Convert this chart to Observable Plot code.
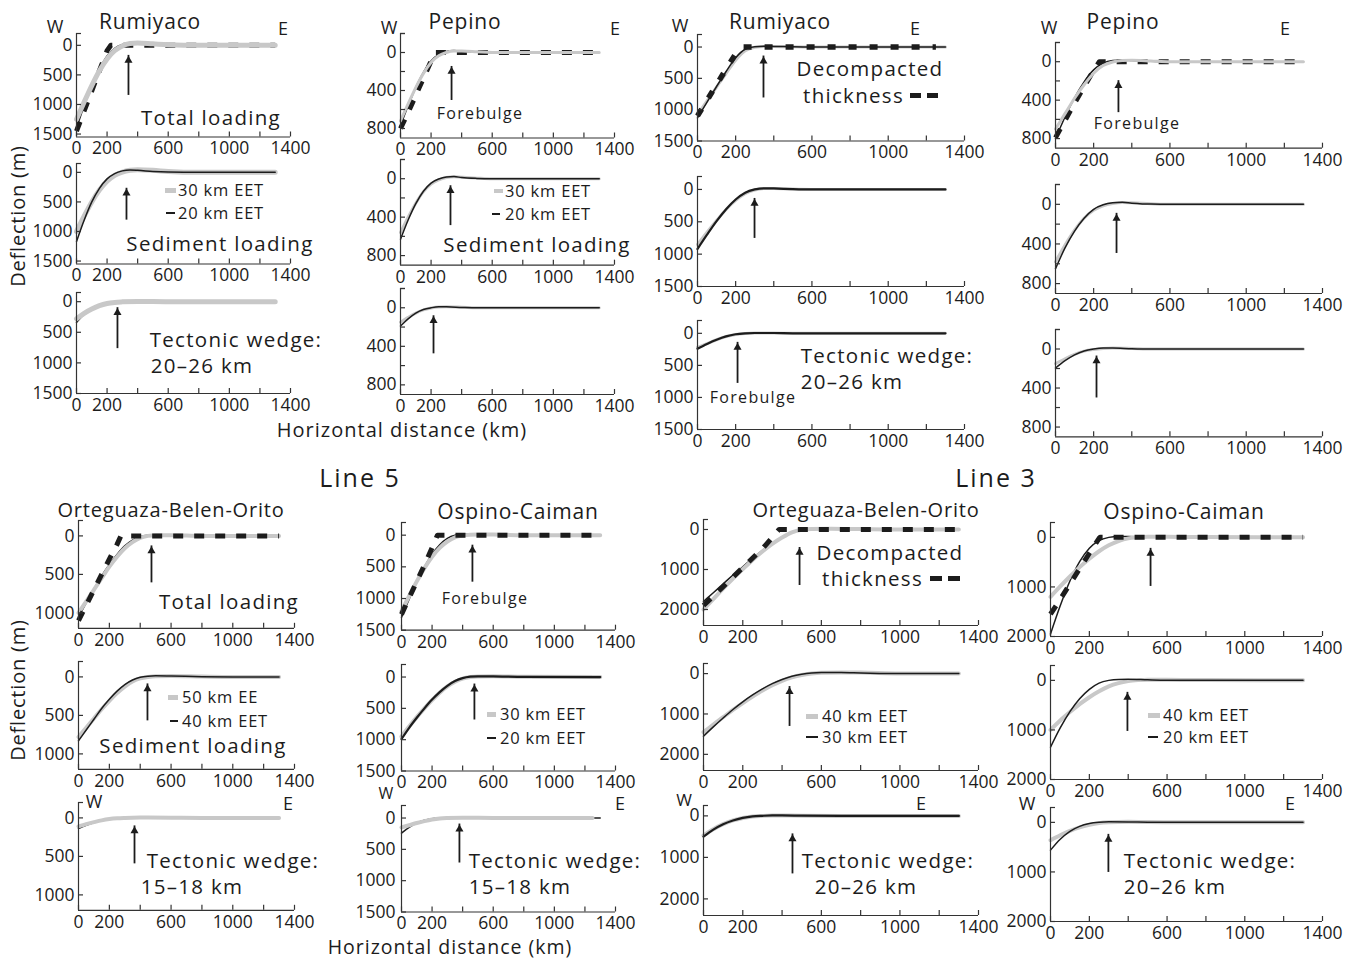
<!DOCTYPE html>
<html><head><meta charset="utf-8">
<script src="https://cdn.jsdelivr.net/npm/d3@7"></script>
<script src="https://cdn.jsdelivr.net/npm/@observablehq/plot@0.6"></script>
<style>
body{margin:0;background:#fff;}
#fig{position:relative;width:1346px;height:961px;overflow:hidden;font-family:"Open Sans",sans-serif;color:#1c1c1c;}
.t{position:absolute;transform:translate(-50%,-50%);white-space:nowrap;line-height:1;}
.l{position:absolute;transform:translate(0,-50%);white-space:nowrap;line-height:1;}
.sw{position:absolute;}
</style></head><body><div id="fig"></div>
<script>
// ---------- tick values ----------
const xTicks = [0,200,400,600,800,1000,1200,1400];
const xLabels = [0,200,600,1000,1400];
const yLab1500 = [0,500,1000,1500];
const yLab800 = [0,400,800];
const yTick800 = [-200,0,200,400,600,800];
const yLab1000 = [0,500,1000];
const yLab2000 = [0,1000,2000];

// ---------- Line 5 (top): Rumiyaco ----------
const p1_dash = [[0,1450],[50,1110],[100,770],[150,430],[200,90],[225,0],[1300,0]];
const p1_g30 = [[0,1250],[50,960],[100,680],[150,430],[200,230],[250,90],[300,10],[350,-30],[400,-40],[500,-25],[600,-10],[800,0],[1300,0]];
const p1_b20 = [[0,1400],[50,1020],[100,680],[150,400],[200,180],[250,50],[300,-15],[350,-40],[400,-35],[500,-15],[600,0],[1300,0]];
const p2_g30 = [[0,1000],[50,740],[100,500],[150,300],[200,150],[250,50],[300,-5],[350,-35],[400,-45],[500,-35],[600,-15],[800,0],[1300,0]];
const p2_b20 = [[0,1170],[50,810],[100,500],[150,270],[200,110],[250,20],[300,-25],[350,-40],[400,-35],[500,-15],[600,-5],[800,0],[1300,0]];
const p3_g30 = [[0,280],[50,190],[100,120],[150,65],[200,30],[250,12],[300,3],[400,-5],[600,0],[1300,0]];
const p3_b20 = [[0,340],[50,210],[100,120],[150,60],[200,25],[250,8],[300,0],[400,-5],[600,0],[1300,0]];
// Line 5 (top): Pepino
const p4_dash = [[0,800],[50,630],[100,450],[150,270],[200,90],[230,0],[1300,0]];
const p4_g30 = [[0,720],[50,540],[100,370],[150,220],[200,105],[250,35],[300,0],[350,-15],[400,-15],[500,-8],[600,0],[1300,0]];
const p4_b20 = [[0,770],[50,560],[100,370],[150,210],[200,90],[250,20],[300,-10],[350,-20],[400,-15],[500,-5],[600,0],[1300,0]];
const p5_g30 = [[0,560],[50,400],[100,255],[150,135],[200,55],[250,12],[300,-12],[350,-20],[400,-15],[500,-6],[600,0],[1300,0]];
const p5_b20 = [[0,630],[50,430],[100,260],[150,130],[200,45],[250,3],[300,-18],[350,-22],[400,-12],[500,-3],[600,0],[1300,0]];
const p6_g30 = [[0,150],[50,100],[100,55],[150,22],[200,3],[250,-8],[300,-10],[400,-6],[500,0],[1300,0]];
const p6_b20 = [[0,190],[50,115],[100,55],[150,18],[200,0],[250,-10],[300,-10],[400,-4],[500,0],[1300,0]];
// ---------- Line 3 (top): Rumiyaco ----------
const p7_dash = [[0,1100],[50,850],[100,600],[150,350],[200,110],[230,0],[1250,0]];
const p7_g = [[0,1080],[50,860],[100,640],[150,420],[200,210],[250,60],[300,5],[350,-10],[400,-10],[500,-3],[600,0],[1300,0]];
const p7_b = [[0,1130],[50,880],[100,630],[150,390],[200,170],[250,35],[300,-5],[350,-12],[400,-10],[500,-3],[600,0],[1300,0]];
const p8_g = [[0,850],[50,660],[100,480],[150,310],[200,170],[250,65],[300,8],[350,-15],[400,-15],[500,-5],[600,0],[1300,0]];
const p8_b = [[0,920],[50,700],[100,490],[150,305],[200,155],[250,50],[300,0],[350,-18],[400,-15],[500,-5],[600,0],[1300,0]];
const p9_g = [[0,220],[50,160],[100,100],[150,50],[200,18],[250,2],[300,-5],[400,-5],[500,0],[1300,0]];
const p9_b = [[0,240],[50,165],[100,100],[150,48],[200,15],[250,0],[300,-5],[400,-5],[500,0],[1300,0]];
// Line 3 (top): Pepino
const p10_dash = [[0,790],[50,610],[100,430],[150,260],[200,90],[230,0],[1300,0]];
const p10_g = [[0,700],[50,540],[100,380],[150,240],[200,120],[250,40],[300,3],[350,-12],[400,-15],[500,-8],[600,0],[1300,0]];
const p10_b = [[0,800],[50,575],[100,375],[150,210],[200,85],[250,15],[300,-12],[350,-18],[400,-12],[500,-4],[600,0],[1300,0]];
const p11_g = [[0,580],[50,410],[100,260],[150,140],[200,60],[250,15],[300,-8],[350,-18],[400,-15],[500,-6],[600,0],[1300,0]];
const p11_b = [[0,650],[50,440],[100,270],[150,140],[200,50],[250,5],[300,-15],[350,-20],[400,-12],[500,-2],[600,0],[1300,0]];
const p12_g = [[0,150],[50,100],[100,55],[150,22],[200,5],[250,-5],[300,-10],[400,-6],[500,0],[1300,0]];
const p12_b = [[0,195],[50,120],[100,60],[150,20],[200,0],[250,-10],[300,-10],[400,-3],[500,0],[1300,0]];
// ---------- Line 5 (bottom): Orteguaza-Belen-Orito ----------
const p13_dash = [[0,1100],[50,900],[100,700],[150,500],[200,300],[250,110],[275,0],[1300,0]];
const p13_g = [[0,1000],[50,850],[100,700],[150,550],[200,400],[250,270],[300,160],[350,80],[400,25],[450,0],[500,-10],[600,-10],[800,0],[1300,0]];
const p13_b = [[0,1050],[50,870],[100,690],[150,520],[200,370],[250,240],[300,130],[350,55],[400,10],[450,-8],[500,-12],[600,-8],[800,0],[1300,0]];
const p14_g50 = [[0,780],[50,660],[100,540],[150,420],[200,310],[250,210],[300,125],[350,60],[400,20],[450,0],[500,-10],[600,-12],[800,-5],[1000,0],[1300,0]];
const p14_b40 = [[0,830],[50,690],[100,550],[150,410],[200,290],[250,185],[300,100],[350,40],[400,5],[450,-10],[500,-15],[600,-12],[800,-3],[1000,0],[1300,0]];
const p15_g = [[0,110],[50,80],[100,55],[150,32],[200,15],[250,5],[300,0],[400,-4],[600,-2],[800,0],[1300,0]];
const p15_b = [[0,140],[50,95],[100,60],[150,32],[200,13],[250,3],[300,-2],[400,-4],[600,0],[1300,0]];
// Line 5 (bottom): Ospino-Caiman
const p16_dash = [[0,1250],[50,990],[100,730],[150,470],[200,200],[235,0],[1300,0]];
const p16_g = [[0,1200],[50,960],[100,730],[150,520],[200,340],[250,200],[300,100],[350,35],[400,5],[450,-8],[500,-12],[600,-10],[800,0],[1300,0]];
const p16_b = [[0,1300],[50,1010],[100,740],[150,500],[200,300],[250,150],[300,50],[350,0],[400,-15],[500,-15],[600,-5],[800,0],[1300,0]];
const p17_g = [[0,950],[50,790],[100,640],[150,500],[200,370],[250,250],[300,150],[350,75],[400,25],[450,0],[500,-10],[600,-12],[800,-3],[1300,0]];
const p17_b = [[0,990],[50,810],[100,650],[150,500],[200,360],[250,240],[300,140],[350,65],[400,18],[450,-5],[500,-12],[600,-10],[800,-2],[1300,0]];
const p18_g = [[0,150],[50,115],[100,80],[150,50],[200,25],[250,8],[300,0],[400,-6],[600,-2],[1250,0]];
const p18_b = [[0,240],[50,150],[100,80],[150,35],[200,10],[250,0],[300,-5],[400,-5],[600,0],[1300,0]];
// ---------- Line 3 (bottom): Orteguaza-Belen-Orito ----------
const p19_dash = [[0,1900],[100,1430],[200,950],[300,480],[385,0],[1300,0]];
const p19_g = [[0,2000],[50,1740],[100,1480],[150,1230],[200,990],[250,760],[300,550],[350,360],[400,200],[450,70],[500,5],[550,-15],[650,-20],[800,-10],[1000,0],[1300,0]];
const p19_b = [[0,1800],[50,1580],[100,1360],[150,1140],[200,930],[250,720],[300,520],[350,340],[400,190],[450,70],[500,0],[550,-20],[650,-20],[800,-8],[1000,0],[1300,0]];
const p20_g = [[0,1450],[50,1260],[100,1080],[150,900],[200,730],[250,570],[300,420],[350,290],[400,180],[450,95],[500,35],[550,0],[600,-20],[700,-30],[800,-25],[1000,-5],[1300,0]];
const p20_b = [[0,1550],[50,1320],[100,1100],[150,890],[200,700],[250,530],[300,380],[350,250],[400,145],[450,65],[500,15],[550,-15],[600,-25],[700,-25],[800,-15],[1000,0],[1300,0]];
const p21_g = [[0,470],[50,320],[100,200],[150,110],[200,50],[250,15],[300,0],[350,-8],[400,-10],[500,-6],[700,0],[1300,0]];
const p21_b = [[0,500],[50,330],[100,200],[150,110],[200,48],[250,12],[300,-2],[350,-10],[400,-10],[500,-5],[700,0],[1300,0]];
// Line 3 (bottom): Ospino-Caiman
const p22_dash = [[0,1550],[50,1250],[100,940],[150,630],[200,320],[250,20],[255,0],[1300,0]];
const p22_g = [[0,1200],[50,990],[100,790],[150,600],[200,430],[250,280],[300,160],[350,75],[400,20],[450,0],[500,-12],[600,-15],[800,-5],[1300,0]];
const p22_b = [[0,1950],[50,1380],[100,880],[150,490],[200,220],[250,65],[300,0],[350,-20],[400,-20],[500,-10],[600,-3],[800,0],[1300,0]];
const p23_g = [[0,1000],[50,810],[100,640],[150,480],[200,340],[250,220],[300,120],[350,55],[400,15],[450,-5],[500,-15],[600,-15],[800,-5],[1300,0]];
const p23_b = [[0,1350],[50,960],[100,630],[150,370],[200,180],[250,55],[300,0],[350,-20],[400,-22],[500,-12],[600,-4],[800,0],[1300,0]];
const p24_g = [[0,360],[50,260],[100,170],[150,100],[200,50],[250,15],[300,0],[400,-10],[500,-8],[700,0],[1300,0]];
const p24_b = [[0,560],[50,340],[100,180],[150,80],[200,25],[250,0],[300,-10],[400,-8],[500,-3],[700,0],[1300,0]];

// forebulge arrows: [x km, tail depth, head depth]
const arrows = [
  [340,847,170],[327,808,269],[268,767,98],
  [334,505,147],[327,488,73],[216,478,83],
  [346,813,144],[299,757,139],[210,781,141],
  [330,530,197],[320,496,91],[215,502,72],
  [473,610,130],[447,571,91],[363,597,104],
  [464,742,158],[477,686,112],[379,718,96],
  [489,1400,450],[438,1309,321],[453,1398,434],
  [515,990,222],[396,1030,242],[298,1010,242]
];

// ---------- layout: [left px of x=0, px of x=1400, top px, bottom px, yTop, yBottom] ----------
const panels = [
  {g:[76,290,33,136.5,-200,1550], yl:yLab1500, yt:yLab1500, s:[[p1_b20,"b"],[p1_dash,"d"],[p1_g30,"g"]], gw:5},
  {g:[76,290,163,263.5,-150,1550], yl:yLab1500, yt:yLab1500, s:[[p2_g30,"g"],[p2_b20,"b"]], gw:5},
  {g:[76,290,292,393,-150,1500], yl:yLab1500, yt:yLab1500, s:[[p3_b20,"b"],[p3_g30,"g"]], gw:5},
  {g:[400,614,33,137.5,-200,900], yl:yLab800, yt:yTick800, s:[[p4_b20,"b"],[p4_dash,"d"],[p4_g30,"g"]], gw:3},
  {g:[400,614,159,264.7,-200,900], yl:yLab800, yt:yTick800, s:[[p5_g30,"g"],[p5_b20,"b"]], gw:3},
  {g:[400,614,288,394,-200,900], yl:yLab800, yt:yTick800, s:[[p6_g30,"g"],[p6_b20,"b"]], gw:3},
  {g:[697,964,33.5,140,-200,1500], yl:yLab1500, yt:yLab1500, s:[[p7_g,"g"],[p7_b,"b"],[p7_dash,"d2"]], gw:3},
  {g:[697,964,176,286,-200,1500], yl:yLab1500, yt:yLab1500, s:[[p8_g,"g"],[p8_b,"bb"]], gw:3},
  {g:[697,964,320,429,-200,1500], yl:yLab1500, yt:yLab1500, s:[[p9_g,"g"],[p9_b,"bb"]], gw:3},
  {g:[1055,1322,42,147.7,-200,900], yl:yLab800, yt:yTick800, s:[[p10_b,"b"],[p10_dash,"d"],[p10_g,"g"]], gw:3},
  {g:[1055,1322,184,293,-200,900], yl:yLab800, yt:yTick800, s:[[p11_g,"g"],[p11_b,"b"]], gw:3},
  {g:[1055,1322,328.5,435.8,-200,900], yl:yLab800, yt:yTick800, s:[[p12_g,"g"],[p12_b,"b"]], gw:3},
  {g:[78,294,519.6,627.4,-200,1200], yl:yLab1000, yt:yLab1000, s:[[p13_b,"b"],[p13_g,"g"],[p13_dash,"d"]], gw:4},
  {g:[78,294,660.6,768.4,-200,1200], yl:yLab1000, yt:yLab1000, s:[[p14_g50,"g"],[p14_b40,"b"]], gw:4},
  {g:[78,294,801.6,909.4,-200,1200], yl:yLab1000, yt:yLab1000, s:[[p15_b,"b"],[p15_g,"g"]], gw:4},
  {g:[401,615,522.3,630,-200,1500], yl:yLab1500, yt:yLab1500, s:[[p16_b,"b"],[p16_g,"g"],[p16_dash,"d"]], gw:4, yp:6},
  {g:[401,615,663.5,770,-200,1500], yl:yLab1500, yt:yLab1500, s:[[p17_g,"g"],[p17_b,"bb"]], gw:4, yp:6},
  {g:[401,615,804.5,911,-200,1500], yl:yLab1500, yt:yLab1500, s:[[p18_b,"b"],[p18_g,"g"]], gw:4, yp:6},
  {g:[703,978,519,625,-250,2400], yl:yLab2000, yt:yLab2000, s:[[p19_b,"b"],[p19_g,"g"],[p19_dash,"d"]], gw:4},
  {g:[703,978,663,770,-250,2400], yl:yLab2000, yt:yLab2000, s:[[p20_g,"g"],[p20_b,"b"]], gw:4},
  {g:[703,978,804.6,914.6,-250,2400], yl:yLab2000, yt:yLab2000, s:[[p21_g,"g"],[p21_b,"bb"]], gw:4},
  {g:[1050,1322,522,636,-300,2000], yl:yLab2000, yt:yLab2000, s:[[p22_b,"b"],[p22_g,"g"],[p22_dash,"d"]], gw:4},
  {g:[1050,1322,665,779,-300,2000], yl:yLab2000, yt:yLab2000, s:[[p23_g,"g"],[p23_b,"b"]], gw:4},
  {g:[1050,1322,807,921,-300,2000], yl:yLab2000, yt:yLab2000, s:[[p24_g,"g"],[p24_b,"b"]], gw:4}
];

const fig = document.getElementById("fig");
const INK = "#1c1c1c", GRAY = "#c8c8c8";

function makePanel(p, i) {
  const [L, R, T, B, yTop, yBot] = p.g;
  const mL = 52, mR = 14, mT = 6, mB = 28;
  const iw = R - L, ih = B - T;
  const marks = [];
  for (const [data, kind] of p.s) {
    let o = {x: d => d[0], y: d => d[1], curve: "monotone-x", strokeLinejoin: "round"};
    if (kind === "g") Object.assign(o, {stroke: GRAY, strokeWidth: p.gw, strokeLinecap: "round"});
    if (kind === "b") Object.assign(o, {stroke: INK, strokeWidth: 1.5});
    if (kind === "bb") Object.assign(o, {stroke: INK, strokeWidth: 2.2});
    if (kind === "d") Object.assign(o, {stroke: INK, strokeWidth: 5, strokeDasharray: "10,11", curve: "linear", strokeLinecap: "butt"});
    if (kind === "d2") Object.assign(o, {stroke: INK, strokeWidth: 5.5, strokeDasharray: "8,13", curve: "linear", strokeLinecap: "butt"});
    marks.push(Plot.line(data, o));
  }
  // axis frame
  marks.push(Plot.ruleX([0], {y1: yTop, y2: yBot, stroke: "#333", strokeWidth: 1.2}));
  marks.push(Plot.ruleY([yBot], {x1: 0, x2: 1400, stroke: "#333", strokeWidth: 1.2}));
  marks.push(Plot.ruleX(xTicks, {x: d => d, insetTop: ih - 5, stroke: "#333", strokeWidth: 1.2}));
  marks.push(Plot.ruleY(p.yt.concat([yTop]), {y: d => d, insetRight: iw - 5, stroke: "#333", strokeWidth: 1.2}));
  marks.push(Plot.axisX({ticks: xLabels, tickSize: 0, tickPadding: 5, label: null, tickFormat: d => String(d)}));
  marks.push(Plot.axisY({ticks: p.yl, tickSize: 0, tickPadding: p.yp || 4, label: null, tickFormat: d => String(d)}));
  // forebulge arrow
  const a = [arrows[i]];
  marks.push(Plot.ruleX(a, {x: d => d[0], y1: d => d[1], y2: d => d[2], stroke: INK, strokeWidth: 1.8}));
  marks.push(Plot.dot(a, {x: d => d[0], y: d => d[2], symbol: "triangle", r: 3, fill: INK, stroke: "none", dy: 5}));
  const svg = Plot.plot({
    width: iw + mL + mR, height: ih + mT + mB,
    marginLeft: mL, marginRight: mR, marginTop: mT, marginBottom: mB,
    x: {domain: [0, 1400]},
    y: {domain: [yBot, yTop]},
    style: {background: "transparent", fontFamily: "'Open Sans', sans-serif", fontSize: "17.5px", color: INK, overflow: "visible"},
    marks
  });
  svg.style.position = "absolute";
  svg.style.left = (L - mL) + "px";
  svg.style.top = (T - mT) + "px";
  fig.appendChild(svg);
}
panels.forEach(makePanel);

// ---------- text ----------
function txt(s, x, y, size, cls = "t", extra = "") {
  const d = document.createElement("div");
  d.className = cls;
  d.textContent = s;
  d.style.cssText = `left:${x}px;top:${y}px;font-size:${size}px;${extra}`;
  fig.appendChild(d);
}
function sw(x1, x2, y, h, color) {
  const d = document.createElement("div");
  d.className = "sw";
  d.style.cssText = `left:${x1}px;top:${y - h / 2}px;width:${x2 - x1}px;height:${h}px;background:${color};`;
  fig.appendChild(d);
}
const TS = 21, AS = 20.5, FS = 16, LS = 16.5, ls1 = "letter-spacing:0.8px;", ls2 = "letter-spacing:1.3px;";
const RA = "transform:translate(-100%,-50%);";
// top block titles and W/E
txt("Rumiyaco", 150, 21, TS, "t", ls1); txt("W", 55, 26, 18); txt("E", 283, 28, 18);
txt("Pepino", 465, 21, TS, "t", ls1); txt("W", 389, 27, 18); txt("E", 615, 28, 18);
txt("Rumiyaco", 780, 21, TS, "t", ls1); txt("W", 680, 25, 18); txt("E", 915, 28, 18);
txt("Pepino", 1123, 21, TS, "t", ls1); txt("W", 1049, 27, 18); txt("E", 1285, 28, 18);
txt("Total loading", 211, 117, AS, "t", ls2);
txt("Sediment loading", 220, 243, AS, "t", ls2);
txt("Tectonic wedge:", 236, 339, AS, "t", ls2); txt("20–26 km", 202, 365, AS, "t", ls2);
sw(165, 176, 190, 5, GRAY); txt("30 km EET", 178, 190, LS, "l", ls1);
sw(166, 175, 213, 2, INK); txt("20 km EET", 178, 213, LS, "l", ls1);
txt("Forebulge", 480, 113, FS, "t", ls2);
sw(494, 503, 191, 4, GRAY); txt("30 km EET", 505, 191, LS, "l", ls1);
sw(492, 500, 214, 2, INK); txt("20 km EET", 505, 214, LS, "l", ls1);
txt("Sediment loading", 537, 244, AS, "t", ls2);
txt("Decompacted", 870, 68, AS, "t", ls2); txt("thickness", 904, 95, AS, "l", ls2 + RA);
sw(910, 921, 95, 5, INK); sw(927, 938, 95, 5, INK);
txt("Tectonic wedge:", 887, 355, AS, "t", ls2); txt("20–26 km", 852, 381, AS, "t", ls2);
txt("Forebulge", 753, 397, FS, "t", ls2);
txt("Forebulge", 1137, 123, FS, "t", ls2);
txt("Deflection (m)", 18, 216, 20, "t", ls1 + "transform:translate(-50%,-50%) rotate(-90deg);");
txt("Horizontal distance (km)", 402, 430, 20, "t", "letter-spacing:1px;");
txt("Line 5", 360, 477, 25, "t", "letter-spacing:2px;");
txt("Line 3", 996, 477, 25, "t", "letter-spacing:2px;");
// bottom block
txt("Orteguaza-Belen-Orito", 171, 510, 20, "t", ls1);
txt("Total loading", 229, 601, AS, "t", ls2);
sw(168, 178, 697, 5, GRAY); txt("50 km EE", 182, 697, LS, "l", ls1);
sw(170, 178, 721, 2, INK); txt("40 km EET", 182, 721, LS, "l", ls1);
txt("Sediment loading", 193, 745, AS, "t", ls2);
txt("W", 94, 801, 18); txt("E", 288, 803, 18);
txt("Tectonic wedge:", 233, 860, AS, "t", ls2); txt("15–18 km", 192, 886, AS, "t", ls2);
txt("Ospino-Caiman", 518, 511, TS, "t", ls1);
txt("Forebulge", 485, 598, FS, "t", ls2);
sw(487, 496, 714, 5, GRAY); txt("30 km EET", 500, 714, LS, "l", ls1);
sw(487, 496, 738, 2, INK); txt("20 km EET", 500, 738, LS, "l", ls1);
txt("W", 386, 793, 16); txt("E", 620, 803, 18);
txt("Tectonic wedge:", 555, 860, AS, "t", ls2); txt("15–18 km", 520, 886, AS, "t", ls2);
txt("Orteguaza-Belen-Orito", 866, 510, 20, "t", ls1);
txt("Decompacted", 890, 552, AS, "t", ls2); txt("thickness", 923, 578, AS, "l", ls2 + RA);
sw(930, 942, 578, 5, INK); sw(948, 960, 578, 5, INK);
sw(806, 818, 716, 5, GRAY); txt("40 km EET", 822, 716, LS, "l", ls1);
sw(806, 818, 737, 2, INK); txt("30 km EET", 822, 737, LS, "l", ls1);
txt("W", 684, 799, 17); txt("E", 921, 803, 18);
txt("Tectonic wedge:", 888, 860, AS, "t", ls2); txt("20–26 km", 866, 886, AS, "t", ls2);
txt("Ospino-Caiman", 1184, 511, TS, "t", ls1);
sw(1148, 1160, 715, 5, GRAY); txt("40 km EET", 1163, 715, LS, "l", ls1);
sw(1148, 1158, 737, 2, INK); txt("20 km EET", 1163, 737, LS, "l", ls1);
txt("W", 1027, 803, 18); txt("E", 1290, 803, 18);
txt("Tectonic wedge:", 1210, 860, AS, "t", ls2); txt("20–26 km", 1175, 886, AS, "t", ls2);
txt("Deflection (m)", 18, 690, 20, "t", ls1 + "transform:translate(-50%,-50%) rotate(-90deg);");
txt("Horizontal distance (km)", 450, 947, 19.5, "t", "letter-spacing:1px;");
</script></body></html>
